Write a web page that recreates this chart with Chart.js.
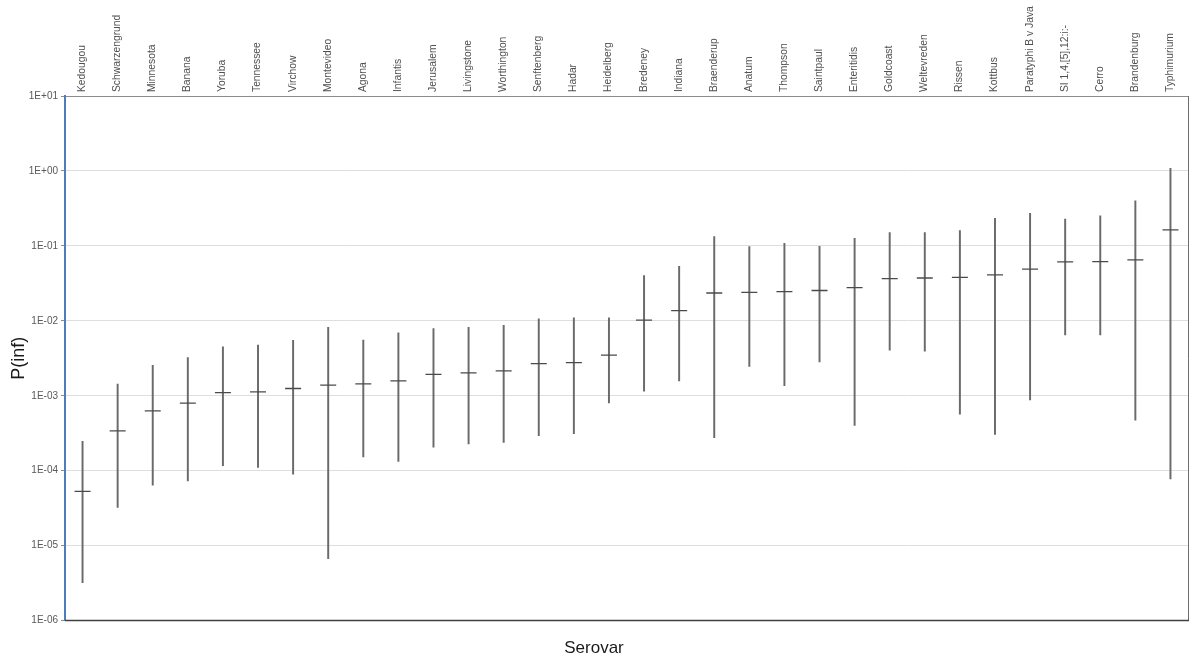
<!DOCTYPE html>
<html>
<head>
<meta charset="utf-8">
<script src="https://cdn.jsdelivr.net/npm/chart.js@4.4.1/dist/chart.umd.min.js"></script>
<style>
  html, body { margin: 0; padding: 0; background: #ffffff; }
  #wrap { width: 1200px; height: 664px; }
</style>
</head>
<body>
<div id="wrap"><canvas id="c" width="1200" height="664"></canvas></div>
<script>
const categories = ["Kedougou","Schwarzengrund","Minnesota","Banana","Yoruba","Tennessee","Virchow","Montevideo","Agona","Infantis","Jerusalem","Livingstone","Worthington","Senftenberg","Hadar","Heidelberg","Bredeney","Indiana","Braenderup","Anatum","Thompson","Saintpaul","Enteritidis","Goldcoast","Weltevreden","Rissen","Kottbus","Paratyphi B v Java","SI 1,4,[5],12:i:-","Cerro","Brandenburg","Typhimurium"];
const pinf  = [5.3e-5,3.4e-4,6.3e-4,8.0e-4,1.1e-3,1.13e-3,1.25e-3,1.39e-3,1.44e-3,1.58e-3,1.93e-3,2.02e-3,2.15e-3,2.68e-3,2.77e-3,3.49e-3,1.02e-2,1.37e-2,2.35e-2,2.4e-2,2.46e-2,2.54e-2,2.77e-2,3.65e-2,3.73e-2,3.81e-2,4.11e-2,4.9e-2,6.1e-2,6.17e-2,6.5e-2,0.164];
const lower = [3.2e-6,3.25e-5,6.4e-5,7.3e-5,1.17e-4,1.11e-4,9.0e-5,6.7e-6,1.53e-4,1.33e-4,2.06e-4,2.28e-4,2.38e-4,2.93e-4,3.13e-4,8.0e-4,1.15e-3,1.58e-3,2.77e-4,2.46e-3,1.36e-3,2.83e-3,4.03e-4,4.07e-3,3.94e-3,5.7e-4,3.06e-4,8.77e-4,6.5e-3,6.5e-3,4.74e-4,7.8e-5];
const upper = [2.47e-4,1.43e-3,2.55e-3,3.24e-3,4.5e-3,4.76e-3,5.5e-3,8.2e-3,5.53e-3,6.9e-3,7.9e-3,8.2e-3,8.7e-3,1.06e-2,1.1e-2,1.1e-2,4.03e-2,5.35e-2,0.133,9.8e-2,0.108,9.9e-2,0.126,0.15,0.15,0.16,0.233,0.271,0.228,0.251,0.398,1.08];
const yTickValues = [1e-6,1e-5,1e-4,1e-3,1e-2,1e-1,1e0,1e1];
const yTickLabels = ["1E-06","1E-05","1E-04","1E-03","1E-02","1E-01","1E+00","1E+01"];

const rangeData = categories.map((c, i) => [lower[i], upper[i]]);

const borderPlugin = {
  id: 'areaBorder',
  beforeDatasetsDraw(chart) {
    const {ctx, chartArea: a} = chart;
    ctx.save();
    ctx.strokeStyle = '#6e6e6e';
    ctx.lineWidth = 1;
    ctx.beginPath();
    ctx.moveTo(a.right + 0.5, a.top);
    ctx.lineTo(a.right + 0.5, a.bottom);
    ctx.stroke();
    ctx.strokeStyle = '#404040';
    ctx.lineWidth = 1.5;
    ctx.beginPath();
    ctx.moveTo(a.left, a.bottom);
    ctx.lineTo(a.right + 1, a.bottom);
    ctx.stroke();
    ctx.restore();
  }
};

new Chart(document.getElementById('c'), {
  type: 'bar',
  data: {
    labels: categories,
    datasets: [
      {
        type: 'bar',
        label: 'range',
        data: rangeData,
        backgroundColor: '#6a6a6a',
        borderWidth: 0,
        barThickness: 1.3,
        order: 2
      },
      {
        type: 'line',
        label: 'P(inf)',
        data: pinf,
        showLine: false,
        pointStyle: 'line',
        pointRadius: 8,
        pointHoverRadius: 8,
        borderColor: '#4a4a4a',
        borderWidth: 1.3,
        order: 1
      }
    ]
  },
  options: {
    responsive: false,
    animation: false,
    devicePixelRatio: 1,
    layout: { padding: { left: 0, right: 12, top: 0, bottom: 0 } },
    plugins: {
      legend: { display: false },
      tooltip: { enabled: false },
      title: {
        display: true,
        position: 'bottom',
        text: 'Serovar',
        color: '#1a1a1a',
        font: { family: 'Liberation Sans', size: 17, weight: 'normal' },
        padding: { top: 18, bottom: 5 }
      }
    },
    scales: {
      x: {
        type: 'category',
        position: 'top',
        offset: true,
        grid: { display: false, drawTicks: false },
        border: { display: true, color: '#8c8c8c', width: 1 },
        ticks: {
          autoSkip: false,
          minRotation: 90,
          maxRotation: 90,
          padding: 4,
          labelOffset: 12,
          color: '#505050',
          font: { family: 'Liberation Sans', size: 10.3 }
        },
        afterFit(scale) { scale.height = 96; }
      },
      y: {
        type: 'logarithmic',
        min: 1e-6,
        max: 10,
        grid: {
          color: '#dedede',
          lineWidth: 1,
          tickLength: 4,
          tickColor: '#8c8c8c'
        },
        border: { display: true, color: '#4f7bbf', width: 2 },
        afterBuildTicks(scale) {
          scale.ticks = yTickValues.map(v => ({ value: v }));
        },
        ticks: {
          padding: 3,
          color: '#595959',
          font: { family: 'Liberation Sans', size: 10 },
          callback(value) {
            const idx = yTickValues.findIndex(v => Math.abs(Math.log10(v) - Math.log10(value)) < 1e-6);
            return idx >= 0 ? yTickLabels[idx] : '';
          }
        },
        title: {
          display: true,
          text: 'P(inf)',
          color: '#1a1a1a',
          font: { family: 'Liberation Sans', size: 18 },
          padding: { top: 8, bottom: 0 }
        },
        afterFit(scale) { scale.width = 65; }
      }
    }
  },
  plugins: [borderPlugin]
});
</script>
</body>
</html>
